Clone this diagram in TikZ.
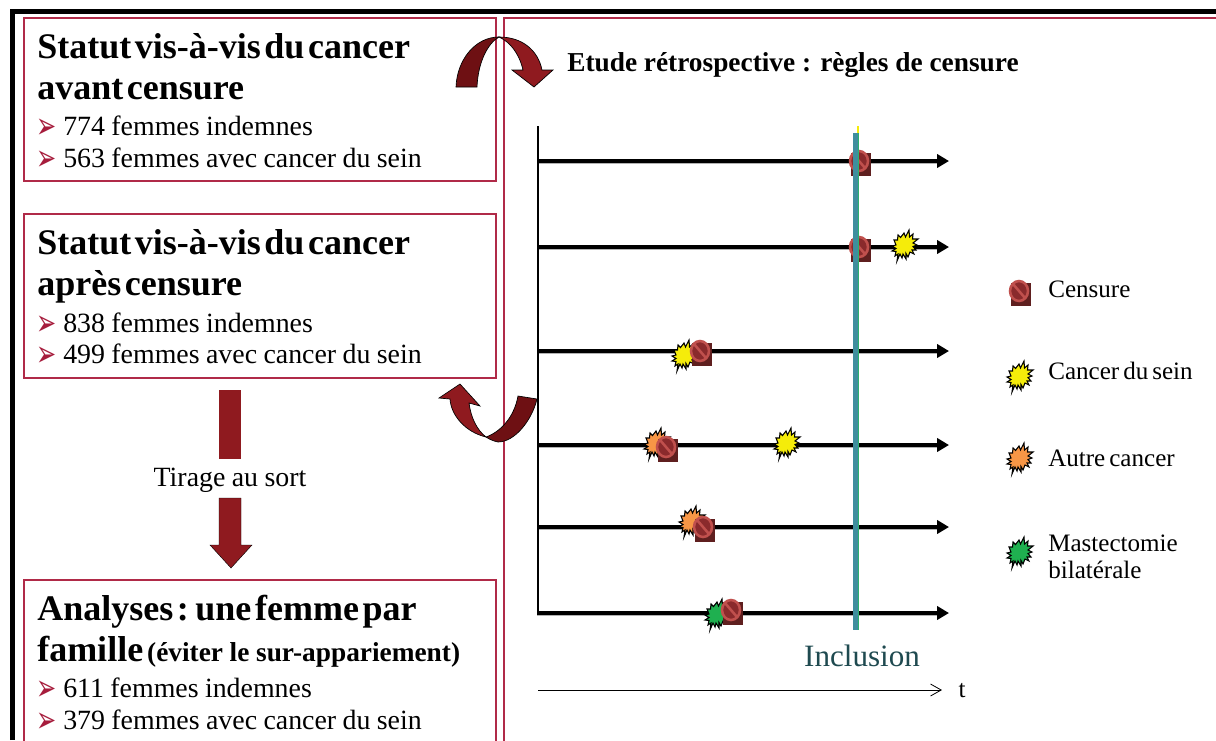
\documentclass[tikz,border=0pt]{standalone}
\usepackage{fontspec}
\usepackage{graphicx}
\setmainfont{Liberation Serif}
\newfontfamily\bulletfont{DejaVu Sans}
\usetikzlibrary{arrows.meta}
\definecolor{boxred}{HTML}{B02A48}
\definecolor{bulletred}{HTML}{A61C3C}
\definecolor{arrowred}{HTML}{8F1A1F}
\definecolor{arrowdark}{HTML}{6E1013}
\definecolor{censq}{HTML}{5F1F1F}
\definecolor{cenring}{HTML}{C0504D}
\definecolor{cenfill}{HTML}{8A2A2C}
\definecolor{teal}{HTML}{3F8E9E}
\definecolor{incl}{HTML}{1F4A50}
\definecolor{burstyellow}{HTML}{F5EC0A}
\definecolor{burstorange}{HTML}{F79646}
\definecolor{burstgreen}{HTML}{1FB050}
\newcommand{\headfont}{\fontsize{27}{30}\bfseries\selectfont\spaceskip=2.7pt\relax}
\newcommand{\bodyfont}{\fontsize{20.9}{24}\selectfont\spaceskip=4.8pt\relax}
\newcommand{\legfont}{\fontsize{18.8}{20}\selectfont\spaceskip=3pt\relax}
\newcommand{\bul}{\makebox[19.5pt][l]{\bulletfont\fontsize{19}{18}\selectfont\textcolor{bulletred}{\hspace{-0.5pt}\raisebox{-2.5pt}{\scalebox{0.95}[1.45]{➢}}}}}
\tikzset{
  redbox/.style={draw=boxred,line width=0.8pt,fill=white},
  headtxt/.style={anchor=base west,inner sep=0pt,font=\headfont},
  bodytxt/.style={anchor=base west,inner sep=0pt,font=\bodyfont},
  legtxt/.style={anchor=base west,inner sep=0pt,font=\legfont,align=left},
  timeline/.style={line width=2.5pt,-{Triangle[length=9pt,width=10pt]}},
  shadowline/.style={line width=1pt,gray!60},
  bigarrow/.style={draw=black,line width=0.5pt,fill=arrowred},
  darkarrow/.style={draw=black,line width=0.5pt,fill=arrowdark},
  pics/burst/.style={code={
    \draw[fill=#1,draw=black,line width=0.8pt,line join=miter,miter limit=10]
    (-7,-11)--(-4.5,-8.5)--(-1,-13)--(0.5,-9)--(4,-16)--(4.5,-9)--(8,-12)--(7.5,-7)--(13,-7)--(8,-3)--(12,-1)--(8,0.5)--(11,4)--(7,4)--(9,8)--(5,6)--(3,11)--(1,7.5)--(1,13)--(-2,8)--(-3,12)--(-5,8)--(-8,15)--(-7,8)--(-10,10)--(-9,5.5)--(-13,5)--(-9,2.5)--(-13,0)--(-9,-1)--(-11,-6)--(-7.5,-6)--cycle;
  }},
  pics/censure/.style={code={
    \fill[censq] (-8,-8) rectangle (12,15);
    \draw[cenring,fill=cenfill,line width=1.9pt] (0,0) ellipse (9 and 10);
    \draw[cenring,line width=1.9pt] (-6,-7)--(6,7);
  }}
}
\begin{document}
\begin{tikzpicture}[x=0.75pt,y=-0.75pt]
\useasboundingbox (0,0) rectangle (1216,740);
\fill[white] (0,0) rectangle (1216,740);
% frame
\coordinate (ftl) at (12.5,11.5);
\coordinate (ftr) at (1216,11.5);
\coordinate (fbl) at (12.5,740);
\draw[line width=3.6pt,line join=miter] (fbl)--(ftl)--(ftr);
% boxes
\draw[redbox] (24,18) rectangle (496,181);
\draw[redbox] (24,214) rectangle (496,378);
\draw[redbox] (24,580) rectangle (496,745);
\draw[redbox,fill=none] (504,760) -- (504,18) -- (1220,18);
% box 1
\node[headtxt] (h1a) at (37,58) {Statut vis-à-vis du cancer};
\node[headtxt] (h1b) at (37,99) {avant censure};
\node[bodytxt] (b1a) at (37,135) {\bul 774 femmes indemnes};
\node[bodytxt] (b1b) at (37,167) {\bul 563 femmes avec cancer du sein};
% box 2
\node[headtxt] (h2a) at (37,254) {Statut vis-à-vis du cancer};
\node[headtxt] (h2b) at (37,295) {après censure};
\node[bodytxt] (b2a) at (37,332) {\bul 838 femmes indemnes};
\node[bodytxt] (b2b) at (37,363) {\bul 499 femmes avec cancer du sein};
% box 3
\node[headtxt] (h3a) at (37,620) {Analyses : une femme par};
\node[headtxt] (h3b) at (37,661) {famille\hspace{3pt}{\fontsize{20.5}{22}\selectfont\spaceskip=5pt\relax (éviter le sur-appariement)}};
\node[bodytxt] (b3a) at (37,697) {\bul 611 femmes indemnes};
\node[bodytxt] (b3b) at (37,729) {\bul 379 femmes avec cancer du sein};
% down arrows
\fill[arrowred] (219,390) rectangle (241,459);
\node[anchor=base,inner sep=0pt,font=\bodyfont] (tirage) at (230,486) {Tirage au sort};
\draw[bigarrow,line width=0.3pt] (219,498)--(241,498)--(241,545)--(252,545)--(231,568)--(210,545)--(219,545)--cycle;
% top curved arrow
\draw[darkarrow] (456,87) .. controls (457,60) and (475,37) .. (499,37) .. controls (488,43) and (478,62) .. (477,87) -- cycle;
\draw[bigarrow] (499,37) .. controls (522,37) and (538,50) .. (542,70) -- (553,70) -- (534,87) -- (512,70) -- (523,70) .. controls (519,53) and (510,42) .. (499,37) -- cycle;
% bottom curved arrow
\draw[bigarrow] (460,384) -- (480,406) -- (469,403) .. controls (471,418) and (477,430) .. (486,437) .. controls (465,432) and (451,415) .. (450,399) -- (439,398) -- cycle;
\draw[darkarrow] (518,396) -- (537,399) .. controls (532,420) and (515,442) .. (498,442) .. controls (493,441) and (489,439) .. (486,437) .. controls (500,432) and (514,418) .. (518,396) -- cycle;
% title
\node[anchor=base west,inner sep=0pt,font=\fontsize{20.5}{22}\bfseries\selectfont] (title) at (567,71) {Etude rétrospective : règles de censure};
% axis and timelines
\coordinate (axtop) at (537.5,126);
\foreach \n/\y in {1/161,2/247,3/351,4/445,5/527,6/613}{
  \coordinate (l\n) at (537,\y);
  \coordinate (r\n) at (949,\y);
  \coordinate (sl\n) at (537,\y+2.5);
  \coordinate (sr\n) at (938,\y+2.5);
  \draw[shadowline] (sl\n)--(sr\n);
  \draw[timeline] (l\n)--(r\n);
}
\draw[line width=1.5pt] (axtop)--(537.5,614);
% events
\pic at (905,246) {burst=burstyellow};
\pic at (685,356) {burst=burstyellow};
\pic at (657,444) {burst=burstorange};
\pic at (787,444) {burst=burstyellow};
\pic at (692,522) {burst=burstorange};
\pic at (718,615) {burst=burstgreen};
\pic at (859,161) {censure};
\pic at (859,247) {censure};
\pic at (700,351) {censure};
\pic at (666,447) {censure};
\pic at (703,527) {censure};
\pic at (731,610) {censure};
% inclusion
\fill[burstyellow] (857,126) rectangle (859,134);
\fill[teal] (853,133) rectangle (858,630);
\fill[green!30!teal] (858,133) rectangle (858.7,630);
\node[anchor=base,inner sep=0pt,font=\fontsize{23.3}{26}\selectfont,text=incl] (inclusion) at (862,666) {Inclusion};
% time arrow
\coordinate (t0) at (538,690);
\coordinate (t1) at (942,690);
\draw[line width=0.6pt,-{Straight Barb[length=8pt,width=9pt]}] (t0)--(t1);
\node[anchor=base,inner sep=0pt,font=\legfont] (tlab) at (962,697) {t};
% legend
\pic at (1019,291) {censure};
\pic at (1020,377) {burst=burstyellow};
\pic at (1020,459) {burst=burstorange};
\pic at (1020,553) {burst=burstgreen};
\node[legtxt] (lg1) at (1048,297) {Censure};
\node[legtxt] (lg2) at (1048,379) {Cancer du sein};
\node[legtxt] (lg3) at (1048,466) {Autre cancer};
\node[legtxt] (lg4) at (1048,551) {Mastectomie};
\node[legtxt] (lg5) at (1048,578) {bilatérale};
\end{tikzpicture}
\end{document}
